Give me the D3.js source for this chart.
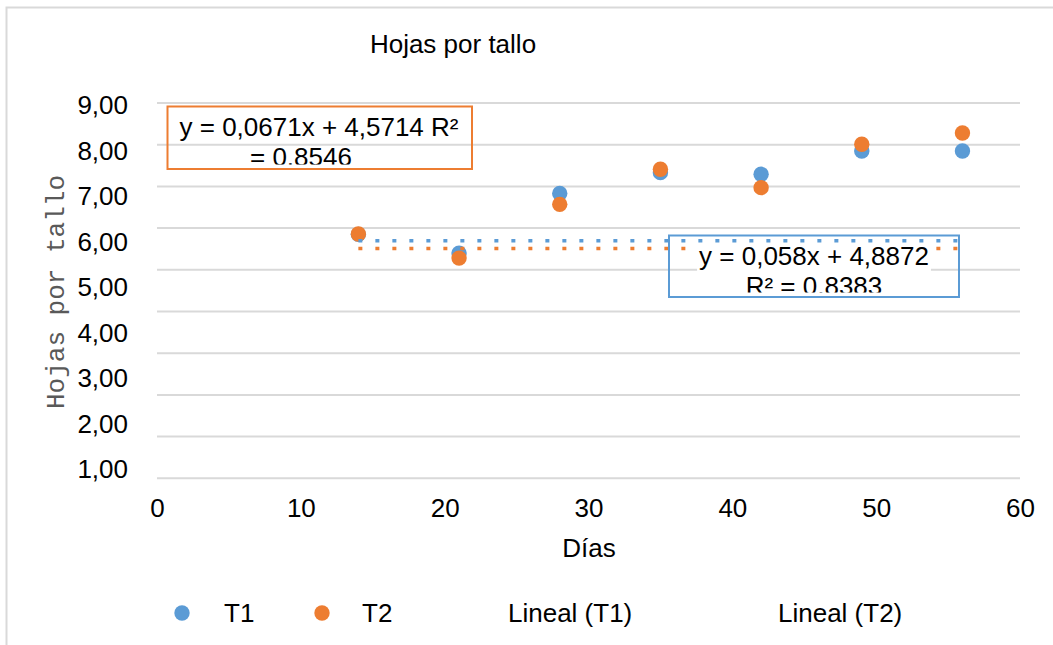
<!DOCTYPE html>
<html>
<head>
<meta charset="utf-8">
<script src="https://cdn.jsdelivr.net/npm/d3@7"></script>
<style>
  html, body { margin: 0; padding: 0; background: #fff; }
  svg { display: block; font-family: "Liberation Sans", Arial, sans-serif; }
</style>
</head>
<body>
<svg id="chart" width="1053" height="645"></svg>
<script>
// Leaves per stem, two treatments, sampled weekly
const days = [14, 21, 28, 35, 42, 49, 56];
const t1 = [5.85, 5.40, 6.83, 7.33, 7.29, 7.85, 7.85];
const t2 = [5.86, 5.28, 6.57, 7.41, 6.97, 8.01, 8.28];
const seriesNames = ["T1", "T2"];
const trendNames = ["Lineal (T1)", "Lineal (T2)"];
const trendSlope = [0.058, 0.0671];
const trendIntercept = [4.8872, 4.5714];
const trendText = [["y = 0,058x + 4,8872", "R² = 0,8383"], ["y = 0,0671x + 4,5714 R²", "= 0,8546"]];
const xTicks = [0, 10, 20, 30, 40, 50, 60];
const yGrid = [0, 1, 2, 3, 4, 5, 6, 7, 8, 9];
const yTickLabels = ["1,00", "2,00", "3,00", "4,00", "5,00", "6,00", "7,00", "8,00", "9,00"];

const colors = ["#5B9BD5", "#ED7D31"];
const FS = 26;

const svg = d3.select("#chart");

// outer chart frame
svg.append("rect")
  .attr("x", 6.5).attr("y", 7.5).attr("width", 1200).attr("height", 800)
  .attr("fill", "#fff").attr("stroke", "#d9d9d9").attr("stroke-width", 2);

const x = d3.scaleLinear().domain([0, 60]).range([157, 1020]);
const y = d3.scaleLinear().domain([0, 9]).range([478.3, 103]);
// value labels on the left run on their own spacing
const yLab = d3.scaleLinear().domain([1, 9]).range([468.5, 104.5]);

// title
svg.append("text")
  .attr("x", 453).attr("y", 53).attr("text-anchor", "middle")
  .attr("font-size", FS).attr("fill", "#000").text("Hojas por tallo");

// horizontal gridlines
svg.append("g").selectAll("line").data(yGrid).join("line")
  .attr("x1", x(0)).attr("x2", x(60))
  .attr("y1", d => y(d)).attr("y2", d => y(d))
  .attr("stroke", "#d9d9d9").attr("stroke-width", 2);

// y tick labels
const yAxis = svg.append("g").attr("transform", "translate(128,0)")
  .call(d3.axisLeft(yLab).tickValues(d3.range(1, 10)).tickSize(0).tickPadding(0)
    .tickFormat((d, i) => yTickLabels[i]));
yAxis.select(".domain").remove();
yAxis.selectAll("text").attr("font-size", FS).attr("font-family", "Liberation Sans, Arial, sans-serif")
  .attr("fill", "#000").attr("dy", "0.36em");

// x tick labels
const xAxis = svg.append("g").attr("transform", "translate(0,517)")
  .call(d3.axisBottom(x).tickValues(xTicks).tickSize(0).tickPadding(0));
xAxis.select(".domain").remove();
xAxis.selectAll("text").attr("font-size", FS).attr("font-family", "Liberation Sans, Arial, sans-serif")
  .attr("fill", "#000").attr("dy", 0);

// axis titles
svg.append("text")
  .attr("x", 589).attr("y", 557).attr("text-anchor", "middle")
  .attr("font-size", FS).attr("fill", "#000").text("Días");
svg.append("text")
  .attr("transform", "translate(64,292) rotate(-90)").attr("text-anchor", "middle")
  .attr("font-family", "Liberation Mono, Courier New, monospace")
  .attr("font-size", FS).attr("fill", "#595959").text("Hojas por tallo");

// scatter points
const series = [t1, t2];
series.forEach((vals, s) => {
  svg.append("g").selectAll("circle").data(days).join("circle")
    .attr("cx", d => x(d)).attr("cy", (d, i) => y(vals[i]))
    .attr("r", 7.7).attr("fill", colors[s]);
});

// linear trend lines (dotted)
const x0 = d3.min(days), x1 = d3.max(days);
[0, 1].forEach(s => {
  const v = trendSlope[s] * x0 + trendIntercept[s];
  svg.append("line")
    .attr("x1", x(x0)).attr("x2", x(x1))
    .attr("y1", y(v)).attr("y2", y(v))
    .attr("stroke", colors[s]).attr("stroke-width", 3.5)
    .attr("stroke-dasharray", "4,13");
});

// trend equation labels
const boxes = [
  { s: 0, x: 669, y: 235.5, w: 290, h: 61.5, lines: [{ cx: 814, base: 265, anchor: "middle" }, { cx: 814, base: 295, anchor: "middle" }] },
  { s: 1, x: 167.5, y: 106.5, w: 304.5, h: 62.5, lines: [{ cx: 319, base: 136, anchor: "middle" }, { cx: 250, base: 166, anchor: "start" }] }
];
const defs = svg.append("defs");
boxes.forEach((b, k) => {
  defs.append("clipPath").attr("id", "clip" + k).append("rect")
    .attr("x", b.x).attr("y", b.y).attr("width", b.w).attr("height", b.h - 4.5);
  const g = svg.append("g");
  const tg = g.append("g").attr("clip-path", `url(#clip${k})`);
  b.lines.forEach((ln, j) => {
    const bg = tg.append("rect").attr("fill", "#fff");
    const t = tg.append("text")
      .attr("x", ln.cx).attr("y", ln.base).attr("text-anchor", ln.anchor)
      .attr("font-size", FS).attr("fill", "#000").text(trendText[b.s][j]);
    const bb = t.node().getBBox();
    bg.attr("x", bb.x - 2).attr("width", bb.width + 4)
      .attr("y", ln.base - 19).attr("height", 25);
  });
  g.append("rect")
    .attr("x", b.x).attr("y", b.y).attr("width", b.w).attr("height", b.h)
    .attr("fill", "none").attr("stroke", colors[b.s]).attr("stroke-width", 2);
});

// legend
const legend = svg.append("g");
const legendItems = [
  { marker: 0, mx: 182, tx: 224, label: seriesNames[0] },
  { marker: 1, mx: 322, tx: 362, label: seriesNames[1] },
  { marker: null, tx: 508, label: trendNames[0] },
  { marker: null, tx: 778, label: trendNames[1] }
];
legendItems.forEach(it => {
  if (it.marker !== null) {
    legend.append("circle").attr("cx", it.mx).attr("cy", 613).attr("r", 7.7).attr("fill", colors[it.marker]);
  }
  legend.append("text").attr("x", it.tx).attr("y", 622)
    .attr("font-size", FS).attr("fill", "#000").text(it.label);
});
</script>
</body>
</html>
